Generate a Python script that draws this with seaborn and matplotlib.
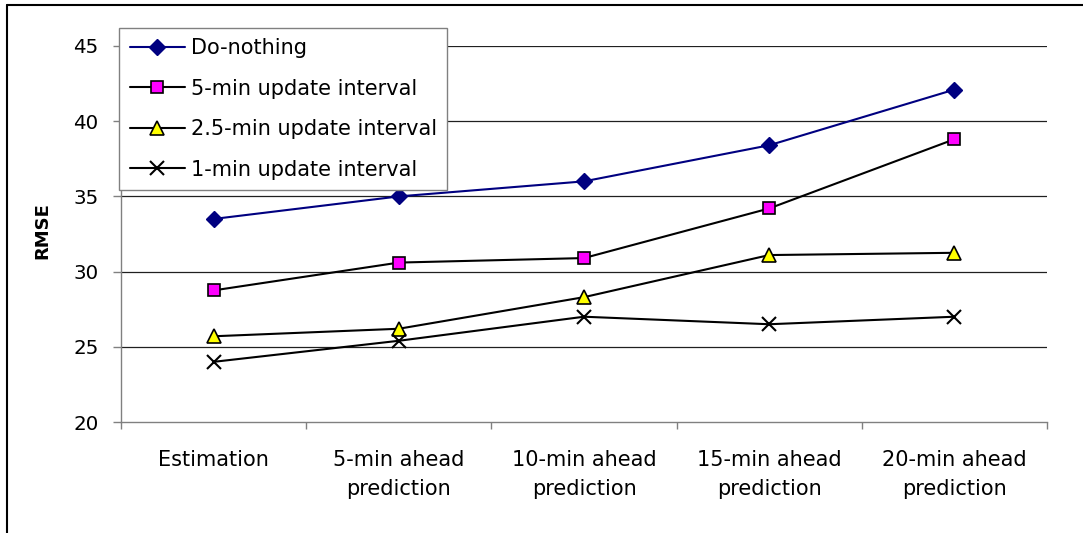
import matplotlib
matplotlib.use("Agg")
import matplotlib.pyplot as plt
from matplotlib.lines import Line2D
from matplotlib.ticker import FixedLocator
import seaborn as sns
import pandas as pd

categories = ["Estimation", "5-min ahead\nprediction", "10-min ahead\nprediction",
              "15-min ahead\nprediction", "20-min ahead\nprediction"]
series_names = ["Do-nothing", "5-min update interval", "2.5-min update interval", "1-min update interval"]
do_nothing = [33.5, 35.0, 36.0, 38.4, 42.1]
five_min = [28.75, 30.6, 30.9, 34.2, 38.8]
two_half_min = [25.7, 26.2, 28.3, 31.1, 31.25]
one_min = [24.0, 25.4, 27.0, 26.5, 27.0]
y_ticks = [20, 25, 30, 35, 40, 45]

series_values = [do_nothing, five_min, two_half_min, one_min]

sns.set_theme(style="white")
plt.rcParams['font.family'] = ['DejaVu Sans']
plt.rcParams['text.color'] = 'black'
plt.rcParams['xtick.color'] = 'black'
plt.rcParams['ytick.color'] = 'black'

fig = plt.figure(figsize=(10.83, 5.33), dpi=100)
ax = fig.add_axes([121/1083, 1-422/533, (1047-121)/1083, (422-46)/533])

styles = [
    dict(color="#000080", marker="D", markersize=8.3, markerfacecolor="#000080",
         markeredgecolor="#000080", markeredgewidth=1.0),
    dict(color="black", marker="s", markersize=8.6, markerfacecolor="#FF00FF",
         markeredgecolor="black", markeredgewidth=1.2),
    dict(color="black", marker="^", markersize=9.5, markerfacecolor="#FFFF00",
         markeredgecolor="black", markeredgewidth=1.2),
    dict(color="black", marker="x", markersize=9.5, markeredgecolor="black",
         markeredgewidth=1.5),
]

for name, vals, st in zip(series_names, series_values, styles):
    df = pd.DataFrame({"pos": list(range(len(categories))), "value": vals})
    sns.lineplot(data=df, x="pos", y="value", ax=ax, label=name, linewidth=1.5, **st)

ax.set_xlim(-0.5, len(categories) - 0.5)
ax.set_ylim(y_ticks[0], y_ticks[-1])
ax.set_yticks(y_ticks)
ax.set_yticklabels([str(t) for t in y_ticks], fontsize=14.3, color="black")
ax.set_xticks(range(len(categories)))
ax.set_xticklabels(categories, fontsize=15, color="black", linespacing=1.6)
ax.xaxis.set_minor_locator(FixedLocator([i - 0.5 for i in range(len(categories) + 1)]))
ax.tick_params(axis="x", which="major", length=0, pad=20)
ax.tick_params(axis="x", which="minor", length=5, width=1, color="#808080", direction="out", bottom=True)
ax.tick_params(axis="y", which="major", length=6, width=1, color="#808080", direction="out", left=True, pad=10)

ax.set_xlabel("")
ax.set_ylabel("RMSE", fontsize=13, fontweight="bold", color="black")
ax.yaxis.set_label_coords(-0.0756, 0.51)

ax.grid(False)
for t in y_ticks[1:]:
    ax.axhline(t, color="#202020", linewidth=0.9, zorder=0.5)

for side in ["top", "right"]:
    ax.spines[side].set_visible(False)
for side in ["left", "bottom"]:
    ax.spines[side].set_color("#808080")
    ax.spines[side].set_linewidth(1.0)

leg = ax.legend(loc="upper left", bbox_to_anchor=(-0.002, 1.048), borderaxespad=0,
                fontsize=15.0, frameon=True, fancybox=False, shadow=False,
                handlelength=2.64, handletextpad=0.29, labelspacing=0.98, borderpad=0.5)
leg.get_frame().set_edgecolor("#808080")
leg.get_frame().set_linewidth(1.0)
leg.get_frame().set_facecolor("white")
leg.get_frame().set_alpha(1)
leg.set_zorder(5)
for txt in leg.get_texts():
    txt.set_color("black")

# outer chart border (only left and top edges visible in the reference)
x0 = 6.5 / 1083
y0 = 1 - 4.5 / 533
fig.add_artist(Line2D([x0, x0], [-0.1, y0], transform=fig.transFigure, color="black", linewidth=1.5))
fig.add_artist(Line2D([x0, 1.1], [y0, y0], transform=fig.transFigure, color="black", linewidth=1.5))

fig.savefig("out.png", dpi=100)
